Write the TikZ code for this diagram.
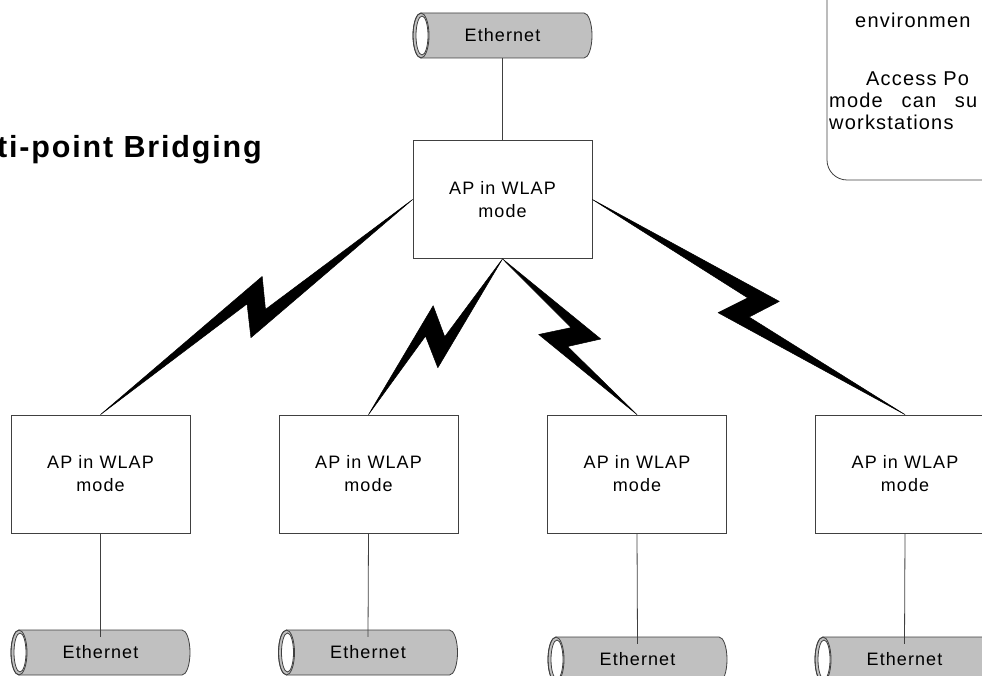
\documentclass[tikz,border=0pt]{standalone}
\usepackage{fontspec}
\setmainfont{Liberation Sans}[LetterSpace=6]
\usetikzlibrary{calc}

\definecolor{cablegray}{RGB}{192,192,192}
\definecolor{edgegray}{RGB}{64,64,64}

\tikzset{
    apbox/.style = {draw=edgegray, line width=0.8pt, minimum width=179pt, minimum height=118pt,
                    inner sep=0pt, align=center, font=\fontsize{18}{23}\selectfont},
    ethernet/.style = {minimum width=179pt, minimum height=45pt, inner sep=0pt,
                    font=\fontsize{18}{23}\selectfont},
    cable/.style = {draw=edgegray, fill=cablegray, line width=0.8pt},
    wire/.style = {draw=edgegray, line width=0.8pt},
    note/.style = {anchor=base west, inner sep=0pt, font=\fontsize{20}{22}\selectfont},
}

% radio link between two anchors
\newcommand{\radiolink}[2]{%
    \path ($(#1)!0.5!(#2)$) coordinate (bm)
          ($(bm)!-22pt!(#2)$) coordinate (b1)
          ($(bm)!-6pt!(#2)$) coordinate (b2)
          ($(bm)!6pt!(#2)$) coordinate (b3)
          ($(bm)!22pt!(#2)$) coordinate (b4);
    \filldraw[line width=0.5pt, line join=round]
        (#1) -- ($(b2)!7pt!90:(#2)$) -- ($(b1)!22pt!-90:(#2)$) -- (#2)
             -- ($(b3)!8pt!-90:(#2)$) -- ($(b4)!22pt!90:(#2)$) -- cycle;
}

\begin{document}
\begin{tikzpicture}[x=1pt, y=-1pt]
    \useasboundingbox (0,0) rectangle (982,676);
    \clip (0,0) rectangle (982,676);

    % draw title and note box
    \node[anchor=base east, inner sep=0pt, font=\bfseries\fontsize{30.5}{34}\selectfont]
        (title) at (262,158) {ti-point Bridging};
    \draw[edgegray, line width=0.8pt, rounded corners=20pt] (827,-30) rectangle (1020,180);
    \node[note] (note1) at (855,28) {environmen};
    \node[note] (note2) at (866,86) {Access Po};
    \node[note] (note3) at (829,108) {mode\hspace{12pt} can\hspace{12pt} su};
    \node[note] (note4) at (829,130) {workstations};

    % draw access points
    \node[apbox] (ap0) at (502.5,199.5) {AP in WLAP\\mode};
    \foreach \i/\x in {1/100.5, 2/368.5, 3/637, 4/905}
        \node[apbox] (ap\i) at (\x,474) {AP in WLAP\\mode};

    % draw ethernet cables
    \foreach \i/\x/\y in {0/502.5/35.5, 1/100.5/652.5, 2/368/652.5, 3/637.5/659.5, 4/904.5/659.5} {
        \filldraw[cable] (\x,\y) ++(-81.5pt,22.5pt) -- ++(163pt,0pt)
            arc [start angle=90, end angle=-90, x radius=8pt, y radius=22.5pt]
            -- ++(-163pt,0pt)
            arc [start angle=270, end angle=90, x radius=8pt, y radius=22.5pt] -- cycle;
        \draw[cable, fill=none] (\x,\y) ++(-81.5pt,0pt) ellipse [x radius=8pt, y radius=22.5pt];
        \filldraw[cable, fill=white] (\x,\y) ++(-80.5pt,0pt) ellipse [x radius=6pt, y radius=19.5pt];
        \node[ethernet] (eth\i) at (\x,\y) {Ethernet};
    }

    % draw wires
    \draw[wire] (eth0.south) -- (ap0.north);
    \foreach \i in {1,...,4}
        \draw[wire] (ap\i.south) -- ([yshift=-7pt]eth\i.north);

    % draw radio links
    \radiolink{ap0.west}{ap1.north}
    \radiolink{ap0.south}{ap2.north}
    \radiolink{ap0.south}{ap3.north}
    \radiolink{ap0.east}{ap4.north}
\end{tikzpicture}
\end{document}
